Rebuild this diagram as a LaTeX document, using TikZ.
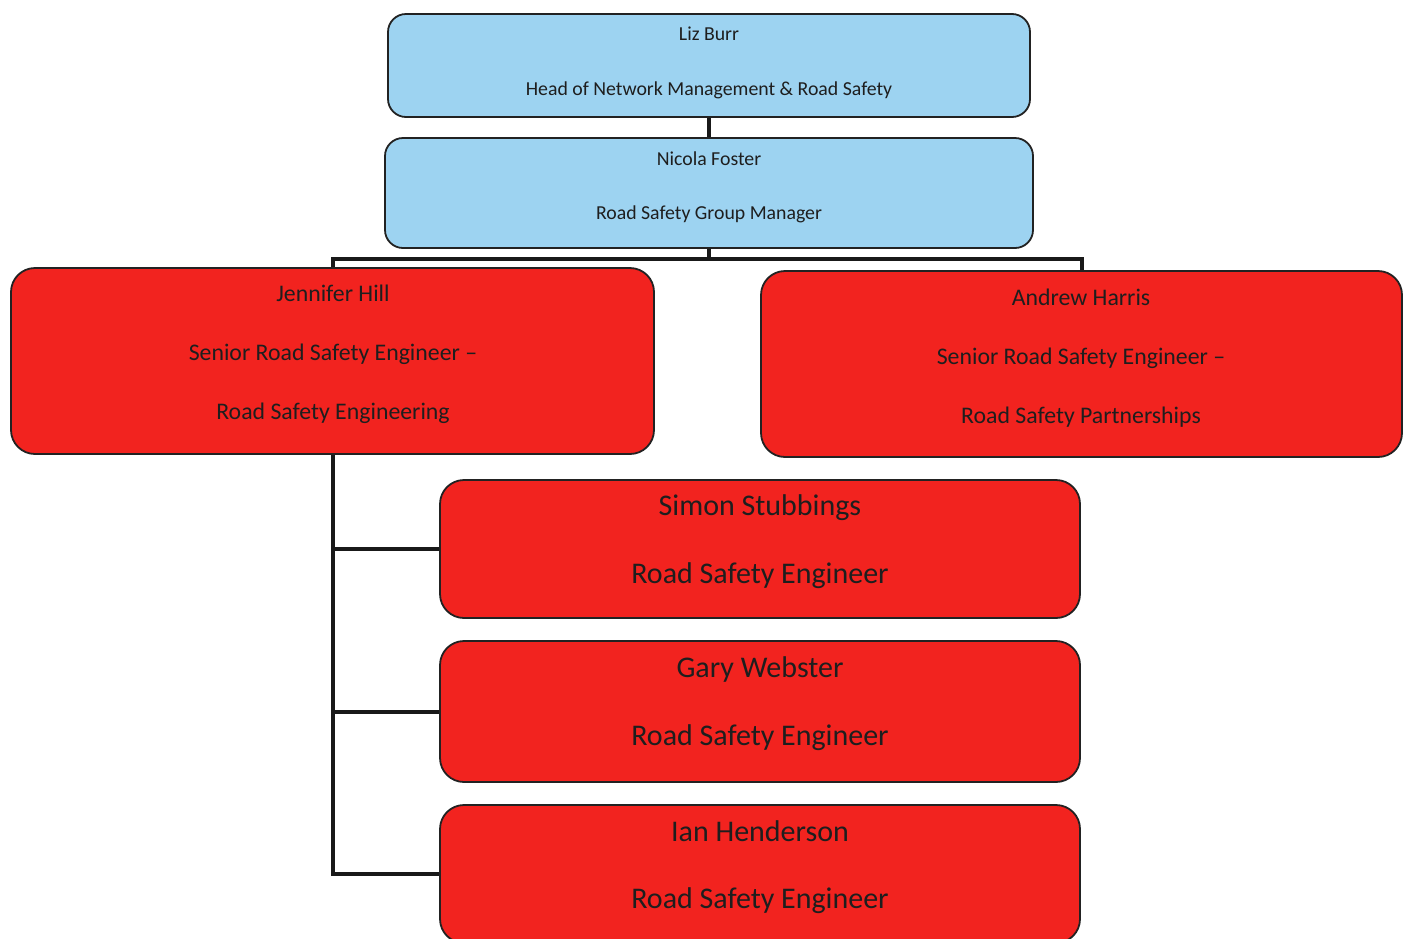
\documentclass[tikz,border=0pt]{standalone}
\usepackage{fontspec}
\setmainfont{Carlito}
\definecolor{boxblue}{HTML}{9DD3F1}
\definecolor{boxred}{HTML}{F2231F}
\definecolor{edge}{HTML}{222222}
\definecolor{txt}{HTML}{1E1E1E}
\begin{document}
\begin{tikzpicture}[x=1pt,y=-1pt,
  bluebox/.style={draw=edge, line width=1.8pt, fill=boxblue, rounded corners=18pt, inner sep=0pt},
  redbox/.style={draw=edge, line width=1.8pt, fill=boxred, rounded corners=24pt, inner sep=0pt},
  ttop/.style={anchor=mid, text=txt, font=\fontsize{19.8}{21}\selectfont, inner sep=0pt},
  tmid/.style={anchor=mid, text=txt, font=\fontsize{23.8}{25}\selectfont, inner sep=0pt},
  tlow/.style={anchor=mid, text=txt, font=\fontsize{30}{32}\selectfont, inner sep=0pt},
  conn/.style={draw=black!90, line width=4pt}]
\useasboundingbox (0,0) rectangle (1410,938);
\clip (0,0) rectangle (1410,938);
% boxes
\node[bluebox, minimum width=642pt, minimum height=103pt] (liz) at (709,65.5) {};
\node[bluebox, minimum width=648pt, minimum height=110pt] (nicola) at (709,193) {};
\node[redbox, minimum width=643pt, minimum height=186pt] (jen) at (332.5,361) {};
\node[redbox, minimum width=641pt, minimum height=186pt] (andrew) at (1081.5,364) {};
\node[redbox, minimum width=640pt, minimum height=138pt] (simon) at (760,549) {};
\node[redbox, minimum width=640pt, minimum height=141pt] (gary) at (760,711.5) {};
\node[redbox, minimum width=640pt, minimum height=138pt] (ian) at (760,874) {};
% connectors
\coordinate (bus) at (709,259);
\draw[conn] (liz.south) -- (nicola.north);
\draw[conn] (nicola.south) -- (bus);
\draw[conn] (jen.north) |- (bus) -| (andrew.north);
\draw[conn] (jen.south) |- (ian.west);
\draw[conn] (jen.south |- simon.west) -- (simon.west);
\draw[conn] (jen.south |- gary.west) -- (gary.west);
% texts
\node[ttop] (lizname) at (709,38) {Liz Burr};
\node[ttop] (lizrole) at (709,93) {Head of Network Management \& Road Safety};
\node[ttop] (nicname) at (709,163) {Nicola Foster};
\node[ttop] (nicrole) at (709,217) {Road Safety Group Manager};
\node[tmid] (jenname) at (333,299) {Jennifer Hill};
\node[tmid] (jenrole) at (333,358) {Senior Road Safety Engineer –};
\node[tmid] (jenteam) at (333,417) {Road Safety Engineering};
\node[tmid] (andname) at (1081,303) {Andrew Harris};
\node[tmid] (androle) at (1081,362) {Senior Road Safety Engineer –};
\node[tmid] (andteam) at (1081,421) {Road Safety Partnerships};
\node[tlow] (simname) at (760,513) {Simon Stubbings};
\node[tlow] (simrole) at (760,581) {Road Safety Engineer};
\node[tlow] (garname) at (760,675) {Gary Webster};
\node[tlow] (garrole) at (760,743) {Road Safety Engineer};
\node[tlow] (ianname) at (760,839) {Ian Henderson};
\node[tlow] (ianrole) at (760,906) {Road Safety Engineer};
\end{tikzpicture}
\end{document}
